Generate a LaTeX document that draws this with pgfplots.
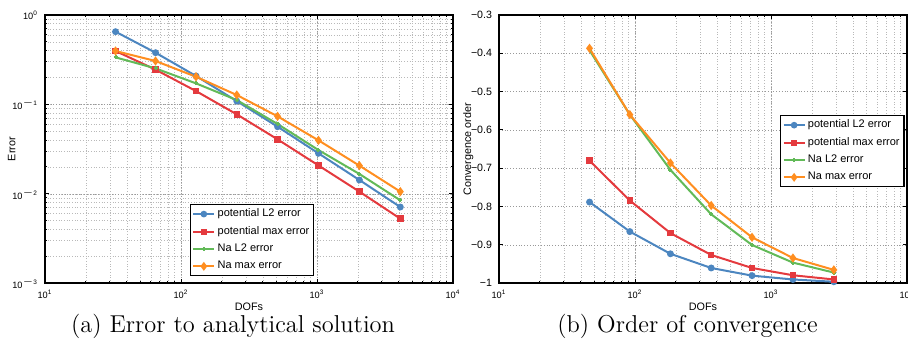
\documentclass[border=0pt]{standalone}
\usepackage{fontspec}
\usepackage{pgfplots}
\pgfplotsset{compat=1.18}
\newfontfamily\arial{Liberation Sans}
\definecolor{cblue}{RGB}{76,134,192}
\definecolor{cred}{RGB}{228,58,62}
\definecolor{cgreen}{RGB}{98,186,88}
\definecolor{corange}{RGB}{255,142,32}
\pgfplotsset{
  mystyle/.style={
    scale only axis, width=204pt, height=134.15pt,
    axis line style={line width=0.9pt},
    tick align=inside, major tick length=2pt, minor tick length=1.2pt,
    tick style={black, line width=0.5pt},
    every tick label/.append style={font=\arial\fontsize{4.6}{5}\selectfont},
    label style={font=\arial\fontsize{5.4}{6}\selectfont},
    grid style={densely dotted, gray!80, line width=0.35pt},
    minor grid style={densely dotted, gray!55, line width=0.3pt},
    legend style={font=\arial\fontsize{5.5}{6}\selectfont, draw=black, line width=0.6pt,
      row sep=1.3pt, inner xsep=1pt, inner ysep=1pt, cells={anchor=west},
      nodes={inner xsep=1.2pt, inner ysep=1pt}},
    legend image code/.code={
      \draw[mark repeat=2,mark phase=2] plot coordinates {(0pt,0pt) (5.25pt,0pt) (10.5pt,0pt)};
    },
    legend image post style={line width=0.9pt},
    every axis plot/.append style={line width=1pt, mark size=1.2pt},
    xmin=10, xmax=10000,
    xtick={10,100,1000,10000},
    xticklabels={10\textsuperscript{1},10\textsuperscript{2},10\textsuperscript{3},10\textsuperscript{4}},
    xlabel={DOFs},
    xlabel style={yshift=5pt},
  }
}
\begin{document}
\begin{tikzpicture}
\useasboundingbox (0,0) rectangle (454pt,174.5pt);
\begin{loglogaxis}[mystyle, at={(22.5pt,32.85pt)}, anchor=south west,
  ymin=1e-3, ymax=1,
  ytick={1e-3,1e-2,1e-1,1},
  yticklabels={10\textsuperscript{$-$3},10\textsuperscript{$-$2},10\textsuperscript{$-$1},10\textsuperscript{0}},
  grid=both,
  ylabel={Error}, ylabel style={yshift=-8.5pt},
  legend style={at={(0.355,0.2956)}, anchor=north west},
]
\addplot[cblue, mark=*] coordinates {(33,0.651) (65,0.379) (129,0.208) (257,0.109) (513,0.0564) (1025,0.0284) (2049,0.0143) (4097,0.00713)};
\addplot[cred, mark=square*, mark size=1.1pt] coordinates {(33,0.396) (65,0.245) (129,0.141) (257,0.0775) (513,0.0407) (1025,0.0208) (2049,0.0106) (4097,0.00528)};
\addplot[cgreen, mark=+, mark size=1pt] coordinates {(33,0.336) (65,0.253) (129,0.172) (257,0.112) (513,0.0604) (1025,0.0309) (2049,0.0167) (4097,0.00847)};
\addplot[corange, mark=diamond*, mark size=1.5pt] coordinates {(33,0.396) (65,0.306) (129,0.204) (257,0.1275) (513,0.0736) (1025,0.0397) (2049,0.0207) (4097,0.0106)};
\legend{potential L2 error, potential max error, Na L2 error, Na max error}
\end{loglogaxis}
\begin{semilogxaxis}[mystyle, at={(249.5pt,32.85pt)}, anchor=south west,
  ymin=-1, ymax=-0.3,
  ytick={-1,-0.9,-0.8,-0.7,-0.6,-0.5,-0.4,-0.3},
  yticklabels={−1,−0.9,−0.8,−0.7,−0.6,−0.5,−0.4,−0.3},
  yticklabel style={font=\arial\fontsize{5.3}{6}\selectfont},
  xmajorgrids, xminorgrids, ymajorgrids,
  ylabel={Convergence order}, ylabel style={yshift=-8pt},
  legend style={at={(0.689,0.627)}, anchor=north west},
]
\addplot[cblue, mark=*] coordinates {(46.3,-0.788) (91.6,-0.865) (182.1,-0.923) (363.2,-0.960) (725.2,-0.980) (1449.3,-0.990) (2897.4,-0.996)};
\addplot[cred, mark=square*, mark size=1.1pt] coordinates {(46.3,-0.680) (91.6,-0.784) (182.1,-0.869) (363.2,-0.926) (725.2,-0.960) (1449.3,-0.979) (2897.4,-0.990)};
\addplot[cgreen, mark=+, mark size=1pt] coordinates {(46.3,-0.392) (91.6,-0.560) (182.1,-0.704) (363.2,-0.820) (725.2,-0.900) (1449.3,-0.946) (2897.4,-0.972)};
\addplot[corange, mark=diamond*, mark size=1.5pt] coordinates {(46.3,-0.387) (91.6,-0.560) (182.1,-0.686) (363.2,-0.797) (725.2,-0.880) (1449.3,-0.934) (2897.4,-0.965)};
\legend{potential L2 error, potential max error, Na L2 error, Na max error}
\end{semilogxaxis}
\node[anchor=base, font=\fontsize{12.2}{14}\selectfont] at (116.5pt,8.5pt) {(a) Error to analytical solution};
\node[anchor=base, font=\fontsize{12.2}{14}\selectfont] at (343.75pt,8.5pt) {(b) Order of convergence};
\end{tikzpicture}
\end{document}
